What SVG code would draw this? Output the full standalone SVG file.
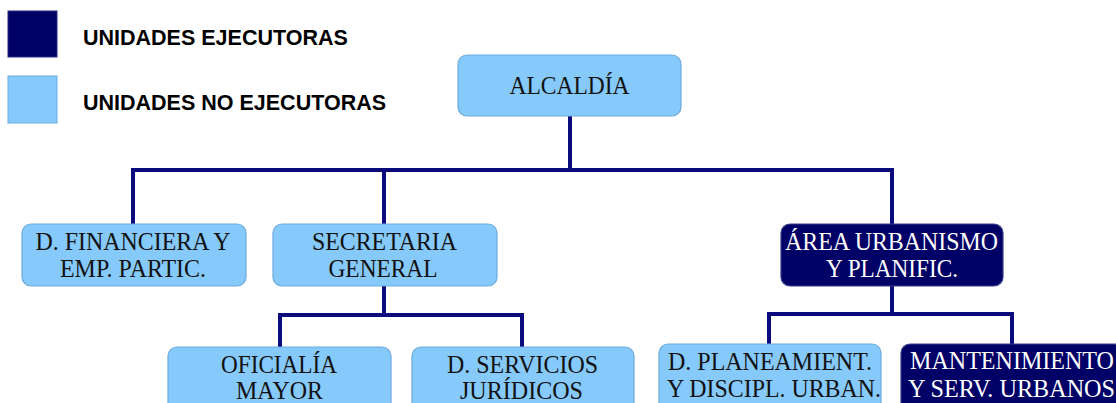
<svg xmlns="http://www.w3.org/2000/svg" width="1116" height="403" viewBox="0 0 1116 403">
  <style>
    .light { fill: #86c9fb; stroke: #6ea9dc; stroke-width: 1.2; }
    .dark { fill: #000066; stroke: #3a3a8a; stroke-width: 1.2; }
    .lbl { font-family: "Liberation Serif", "Times New Roman", serif; font-size: 25.5px; text-anchor: middle; }
    .lbl-d { fill: #111111; }
    .lbl-w { fill: #ffffff; }
    .legend { font-family: "Liberation Sans", Arial, sans-serif; font-weight: bold; font-size: 21.5px; fill: #000000; }
    .conn { fill: none; stroke: #0b0b7d; stroke-width: 4; stroke-linejoin: miter; }
  </style>

  <!-- legend -->
  <g id="legend">
    <rect x="8" y="11" width="49" height="46" fill="#000066" stroke="#2a2a80" stroke-width="1"/>
    <text class="legend" x="83" y="45">UNIDADES EJECUTORAS</text>
    <rect x="8" y="76" width="49" height="47" fill="#86c9fb" stroke="#6ea9dc" stroke-width="1"/>
    <text class="legend" x="83" y="110">UNIDADES NO EJECUTORAS</text>
  </g>

  <!-- connectors -->
  <g id="connectors">
    <path class="conn" d="M570 116 V170"/>
    <path class="conn" d="M133 224 V170 H892 V224"/>
    <path class="conn" d="M384 170 V224"/>
    <path class="conn" d="M384 286 V315"/>
    <path class="conn" d="M280 347 V315 H522 V347"/>
    <path class="conn" d="M892 286 V314"/>
    <path class="conn" d="M769 344 V314 H1012 V344"/>
  </g>

  <g id="alcaldia">
    <rect class="light" x="458" y="55" width="223" height="61" rx="9"/>
    <text class="lbl lbl-d" x="569.5" y="94" textLength="120" lengthAdjust="spacingAndGlyphs">ALCALDÍA</text>
  </g>

  <g id="financiera">
    <rect class="light" x="22" y="224" width="224" height="62" rx="9"/>
    <text class="lbl lbl-d" x="133" y="250" textLength="195" lengthAdjust="spacingAndGlyphs">D. FINANCIERA Y</text>
    <text class="lbl lbl-d" x="133" y="277" textLength="146" lengthAdjust="spacingAndGlyphs">EMP. PARTIC.</text>
  </g>

  <g id="secretaria">
    <rect class="light" x="273" y="224" width="224" height="62" rx="9"/>
    <text class="lbl lbl-d" x="384.5" y="250" textLength="145" lengthAdjust="spacingAndGlyphs">SECRETARIA</text>
    <text class="lbl lbl-d" x="383" y="277" textLength="109" lengthAdjust="spacingAndGlyphs">GENERAL</text>
  </g>

  <g id="urbanismo">
    <rect class="dark" x="781" y="224" width="222" height="62" rx="9"/>
    <text class="lbl lbl-w" x="891.5" y="250" textLength="213" lengthAdjust="spacingAndGlyphs">ÁREA URBANISMO</text>
    <text class="lbl lbl-w" x="892" y="277" textLength="132" lengthAdjust="spacingAndGlyphs">Y PLANIFIC.</text>
  </g>

  <g id="oficialia">
    <rect class="light" x="168" y="347" width="223" height="70" rx="9"/>
    <text class="lbl lbl-d" x="279" y="373" textLength="116" lengthAdjust="spacingAndGlyphs">OFICIALÍA</text>
    <text class="lbl lbl-d" x="279.5" y="399" textLength="87" lengthAdjust="spacingAndGlyphs">MAYOR</text>
  </g>

  <g id="juridicos">
    <rect class="light" x="412" y="347" width="222" height="70" rx="9"/>
    <text class="lbl lbl-d" x="522.5" y="373" textLength="151" lengthAdjust="spacingAndGlyphs">D. SERVICIOS</text>
    <text class="lbl lbl-d" x="521.5" y="399" textLength="123" lengthAdjust="spacingAndGlyphs">JURÍDICOS</text>
  </g>

  <g id="planeamiento">
    <rect class="light" x="659" y="344" width="222" height="70" rx="9"/>
    <text class="lbl lbl-d" x="770" y="370" textLength="204" lengthAdjust="spacingAndGlyphs">D. PLANEAMIENT.</text>
    <text class="lbl lbl-d" x="774" y="397" textLength="214" lengthAdjust="spacingAndGlyphs">Y DISCIPL.  URBAN.</text>
  </g>

  <g id="mantenimiento">
    <rect class="dark" x="901" y="344" width="222" height="70" rx="9"/>
    <text class="lbl lbl-w" x="1012" y="369" textLength="204" lengthAdjust="spacingAndGlyphs">MANTENIMIENTO</text>
    <text class="lbl lbl-w" x="1011.5" y="397" textLength="207" lengthAdjust="spacingAndGlyphs">Y SERV. URBANOS</text>
  </g>
</svg>
